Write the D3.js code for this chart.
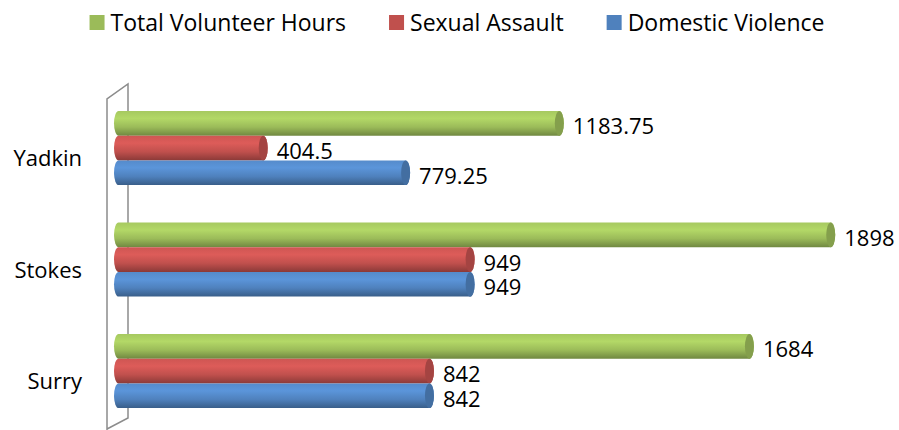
<!DOCTYPE html>
<html>
<head>
<meta charset="utf-8">
<script src="https://cdn.jsdelivr.net/npm/d3@7"></script>
<style>
  body { margin: 0; background: #fff; }
</style>
</head>
<body>
<div id="chart"></div>
<script>
// data
var categories = ['Yadkin', 'Stokes', 'Surry'];
var seriesNames = ['Total Volunteer Hours', 'Sexual Assault', 'Domestic Violence'];
var volunteerHours = [1183.75, 1898, 1684];
var sexualAssault = [404.5, 949, 842];
var domesticViolence = [779.25, 949, 842];
var seriesColors = ['#9bbb59', '#c0504d', '#4f81bd'];

var attrs = {
  svgWidth: 899,
  svgHeight: 430,
  fontFamily: '"Open Sans", Calibri, sans-serif',
  plotLeft: 114,
  pxPerUnit: 0.38,
  axisMax: 2000,
  bandTop: 92.3,
  bandStep: 111.5
};

var seriesValues = [volunteerHours, sexualAssault, domesticViolence];

var rows = [];
categories.forEach(function (cat, ci) {
  seriesNames.forEach(function (s, si) {
    rows.push({ cat: cat, series: s, si: si, value: seriesValues[si][ci] });
  });
});

var svg = d3.select('#chart').append('svg')
  .attr('width', attrs.svgWidth)
  .attr('height', attrs.svgHeight)
  .attr('font-family', attrs.fontFamily);

// scales
var x = d3.scaleLinear()
  .domain([0, attrs.axisMax])
  .range([attrs.plotLeft, attrs.plotLeft + attrs.axisMax * attrs.pxPerUnit]);

var y = d3.scaleBand()
  .domain(categories)
  .range([attrs.bandTop, attrs.bandTop + categories.length * attrs.bandStep])
  .paddingInner(0.336)
  .paddingOuter(0.168);

var ySub = d3.scaleBand()
  .domain(seriesNames)
  .range([0, y.bandwidth()]);

// gradients for the cylinder look
var defs = svg.append('defs');
seriesColors.forEach(function (c, i) {
  var base = d3.color(c);
  var g = defs.append('linearGradient')
    .attr('id', 'grad' + i)
    .attr('x1', 0).attr('y1', 0).attr('x2', 0).attr('y2', 1);
  g.append('stop').attr('offset', '0%').attr('stop-color', base.brighter(0.2));
  g.append('stop').attr('offset', '30%').attr('stop-color', base.brighter(0.4));
  g.append('stop').attr('offset', '65%').attr('stop-color', base);
  g.append('stop').attr('offset', '100%').attr('stop-color', base.darker(0.9));
});

// back wall (3d frame)
var wallFront = 107, wallBack = 128;
svg.append('path')
  .attr('d', 'M' + wallFront + ',' + (attrs.svgHeight + 5) + 'V99L' + wallBack + ',84V418L' + wallFront + ',429')
  .attr('fill', 'none')
  .attr('stroke', '#8c8c8c')
  .attr('stroke-width', 1.5);

// bars
var rx = 4.5;
var bars = svg.append('g').selectAll('g.bar')
  .data(rows)
  .enter().append('g')
  .attr('class', 'bar')
  .attr('transform', function (d) { return 'translate(0,' + (y(d.cat) + ySub(d.series)) + ')'; });

var h = ySub.bandwidth();
bars.append('path')
  .attr('d', function (d) {
    var x0 = x(0), x1 = x(d.value) - rx;
    var ry = h / 2;
    return 'M' + (x0 + rx) + ',0H' + x1 +
      'A' + rx + ',' + ry + ' 0 0 1 ' + x1 + ',' + h +
      'H' + (x0 + rx) +
      'A' + rx + ',' + ry + ' 0 0 1 ' + (x0 + rx) + ',0Z';
  })
  .attr('fill', function (d) { return 'url(#grad' + d.si + ')'; });

bars.append('ellipse')
  .attr('cx', function (d) { return x(d.value) - rx; })
  .attr('cy', h / 2)
  .attr('rx', rx)
  .attr('ry', h / 2)
  .attr('fill', function (d) { return d3.color(seriesColors[d.si]).darker(0.45); });

// value labels
bars.append('text')
  .attr('x', function (d) { return x(d.value) + 9; })
  .attr('y', h / 2 + 11)
  .attr('font-size', 22)
  .attr('fill', '#000')
  .text(function (d) { return d.value; });

// category labels
svg.append('g').selectAll('text')
  .data(categories)
  .enter().append('text')
  .attr('x', 82)
  .attr('y', function (d) { return y(d) + y.bandwidth() / 2 + 18; })
  .attr('text-anchor', 'end')
  .attr('font-size', 22)
  .attr('fill', '#000')
  .text(function (d) { return d; });

// legend
var legend = svg.append('g').attr('transform', 'translate(0,15)');
var items = legend.selectAll('g')
  .data(seriesNames)
  .enter().append('g');
items.append('rect')
  .attr('width', 15).attr('height', 15)
  .attr('fill', function (d, i) { return seriesColors[i]; });
items.append('text')
  .attr('x', 21)
  .attr('y', 16)
  .attr('font-size', 23)
  .attr('fill', '#000')
  .text(function (d) { return d; });

var widths = [];
items.each(function () { widths.push(this.getBBox().width); });
var gap = 43;
var total = d3.sum(widths) + gap * (widths.length - 1);
var cursor = 457 - total / 2;
items.attr('transform', function (d, i) {
  var t = 'translate(' + cursor + ',0)';
  cursor += widths[i] + gap;
  return t;
});
</script>
</body>
</html>
